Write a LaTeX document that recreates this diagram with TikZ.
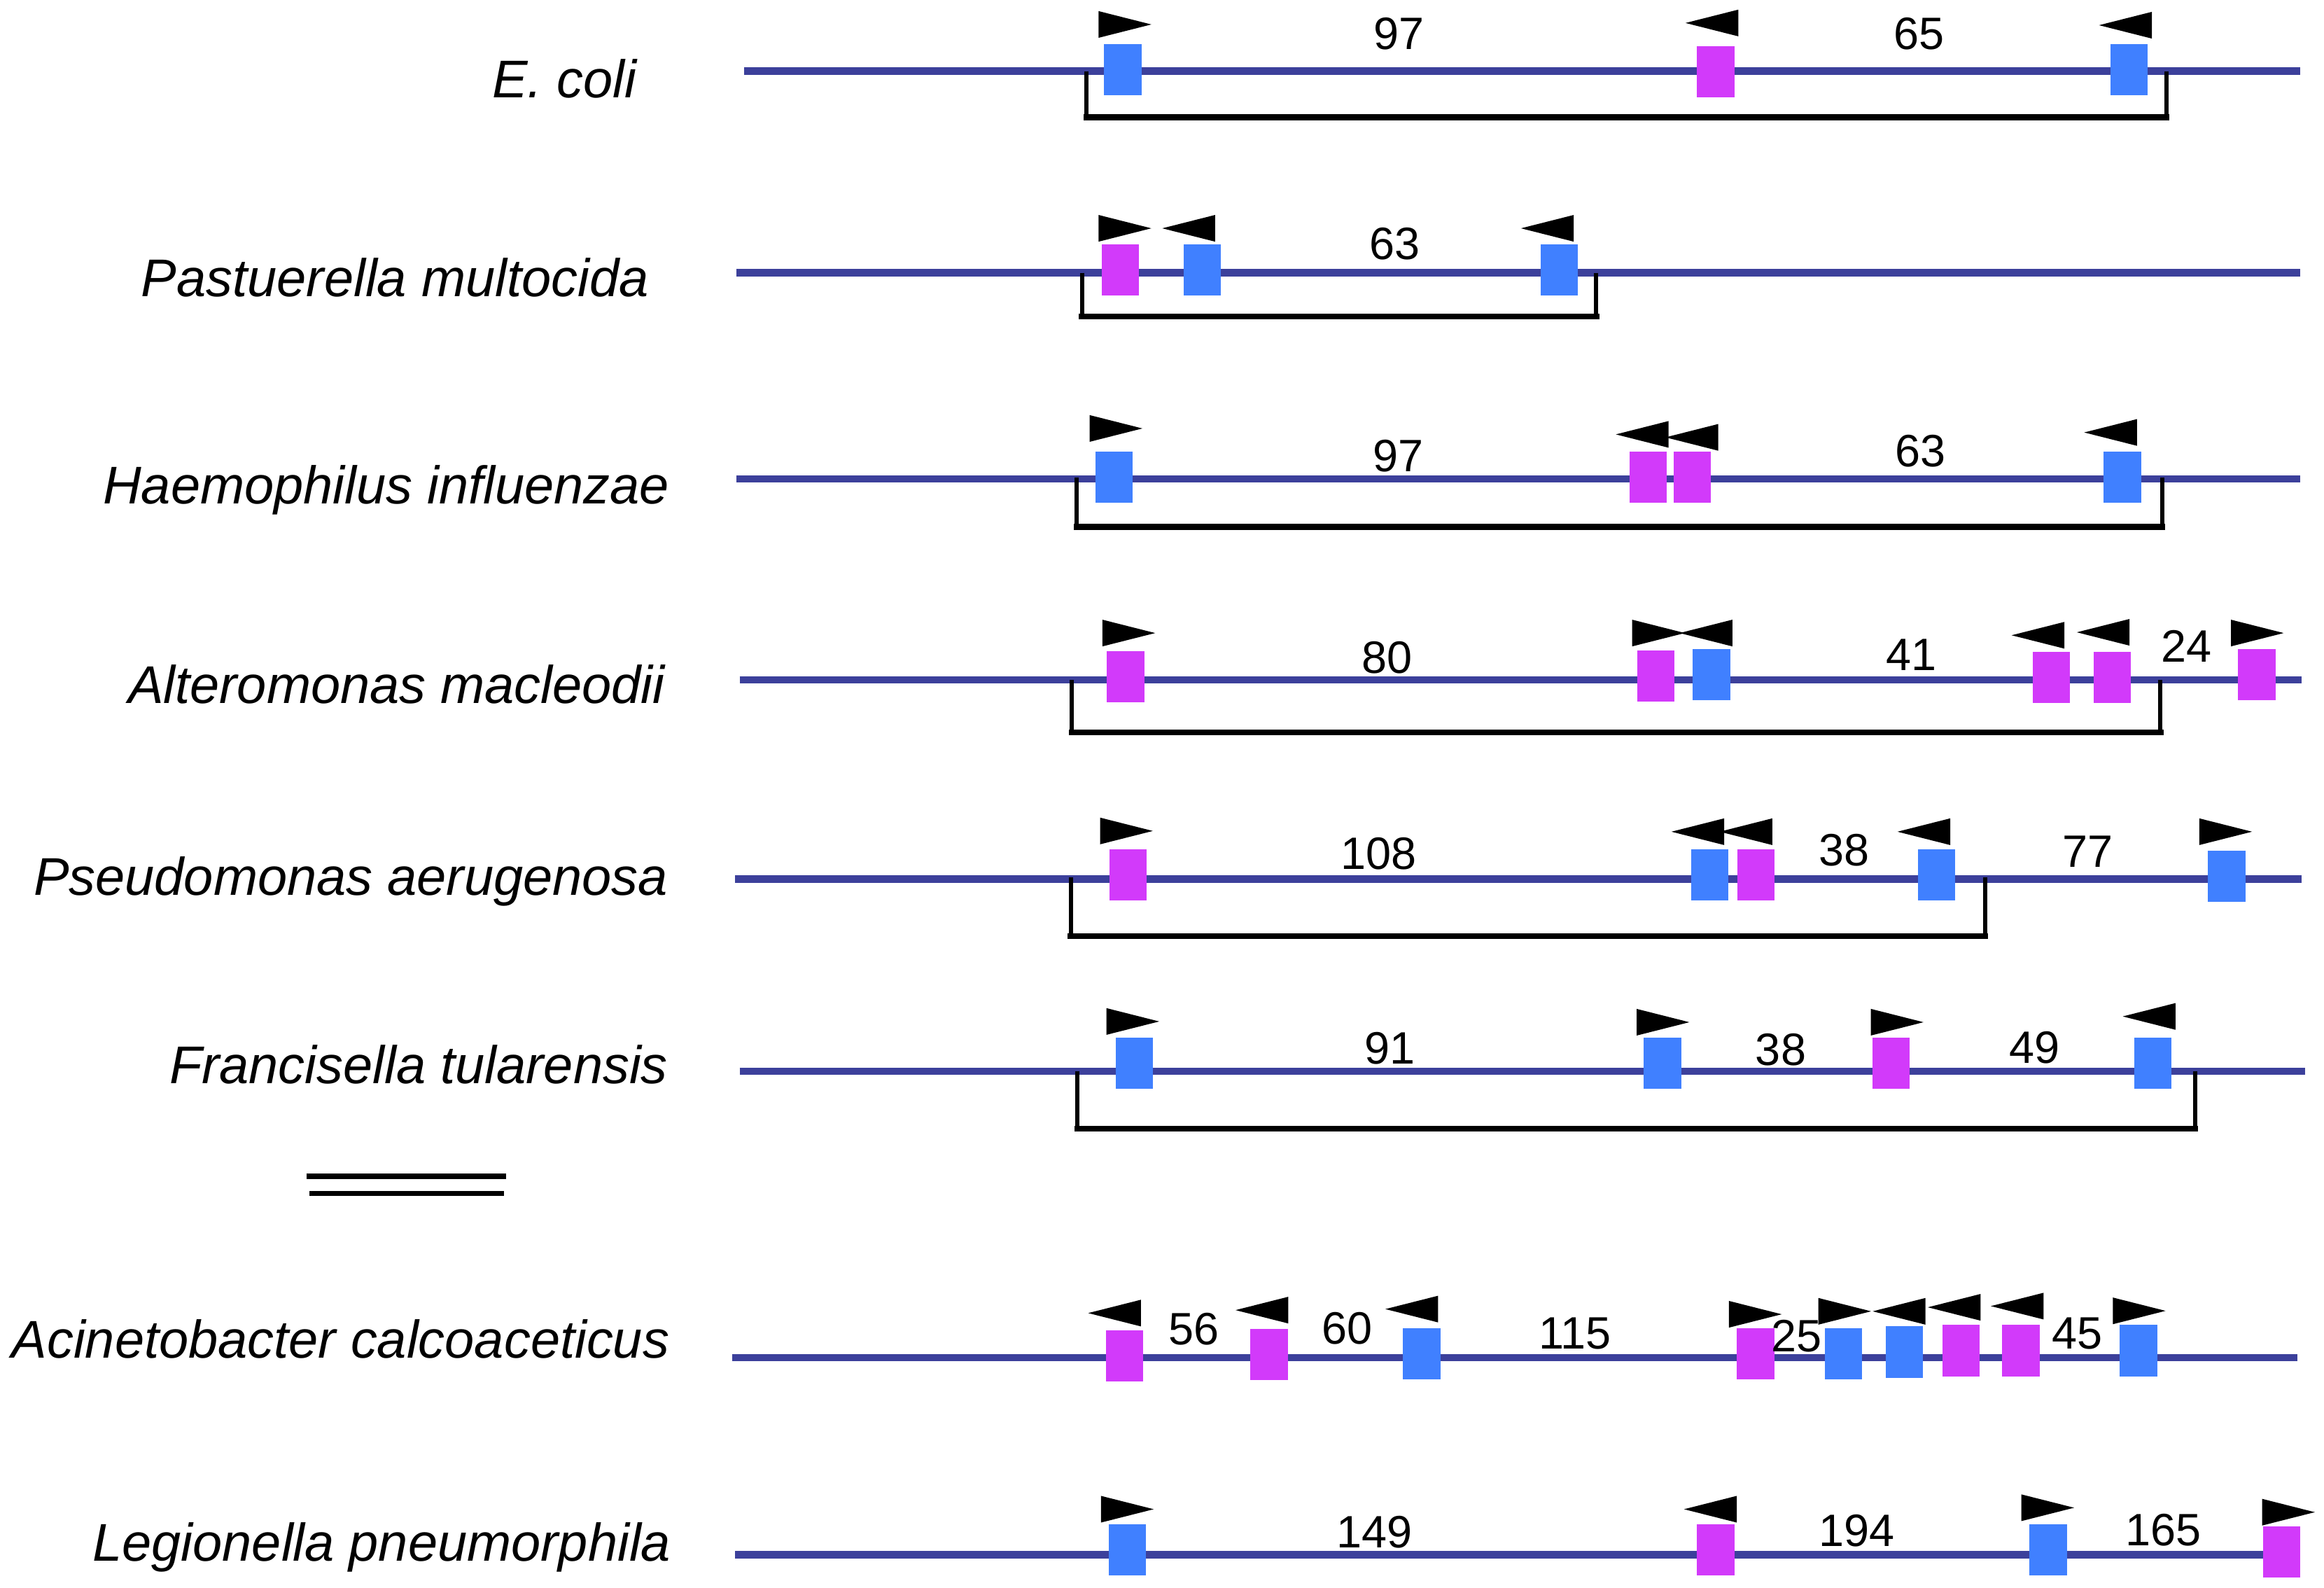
\documentclass[tikz,border=0pt]{standalone}
\usepackage{fontspec}
\setmainfont{Liberation Sans}
\definecolor{dnaline}{RGB}{60,64,155}
\definecolor{boxblue}{RGB}{64,128,255}
\definecolor{boxmag}{RGB}{210,58,250}
\newcommand\blubox[2]{\fill[boxblue] (#1-12.6,#2-17.3) rectangle (#1+12.6,#2+17.3);}
\newcommand\magbox[2]{\fill[boxmag] (#1-12.6,#2-17.3) rectangle (#1+12.6,#2+17.3);}
\newcommand\rarr[2]{\fill[black] (#1-17.8,#2-9) -- (#1+17.8,#2) -- (#1-17.8,#2+9) -- cycle;}
\newcommand\larr[2]{\fill[black] (#1+17.8,#2-9) -- (#1-17.8,#2) -- (#1+17.8,#2+9) -- cycle;}
\newcommand\dnarow[3]{\draw[dnaline,line width=2.5pt] (#1,#3) -- (#2,#3);}
\newcommand\spanbracket[4]{%
  \draw[black,line width=1.4pt] (#1,#3) -- (#1,#4);
  \draw[black,line width=1.4pt] (#2,#3) -- (#2,#4);
  \draw[black,line width=2pt,line cap=rect] (#1,#4) -- (#2,#4);}
\tikzset{
  species/.style={anchor=base east,inner sep=0pt,font=\fontsize{17.9}{21}\selectfont\itshape},
  num/.style={anchor=base,inner sep=0pt,font=\fontsize{15.3}{18}\selectfont},
}
\begin{document}
\begin{tikzpicture}[x=0.5pt,y=-0.5pt]
\useasboundingbox[fill=white] (0,0) rectangle (1568,1070.7);

% ---------- labels ----------
\node[species] (l1) at (430,66) {E. coli};
\node[species] (l2) at (438,200) {Pastuerella multocida};
\node[species] (l3) at (452,340) {Haemophilus influenzae};
\node[species] (l4) at (449,474.5) {Alteromonas macleodii};
\node[species] (l5) at (451,604) {Pseudomonas aerugenosa};
\node[species] (l6) at (451,731) {Francisella tularensis};
\node[species] (l7) at (452,916) {Acinetobacter calcoaceticus};
\node[species] (l8) at (453,1053) {Legionella pneumorphila};

% ---------- row 1: E. coli ----------
\dnarow{502}{1552}{48}
\spanbracket{733}{1461.5}{48}{79}
\blubox{757.5}{47}
\magbox{1157.5}{48.5}
\blubox{1436.5}{47}
\rarr{759}{16.5}
\larr{1155}{15.5}
\larr{1434}{17}
\node[num] (n11) at (944,33.4) {97};
\node[num] (n12) at (1295,33.4) {65};

% ---------- row 2: Pastuerella ----------
\dnarow{497}{1552}{184}
\spanbracket{730}{1077}{184}{213.4}
\magbox{756}{182}
\blubox{811}{182}
\blubox{1052}{182}
\rarr{759}{154}
\larr{802}{154}
\larr{1044}{154}
\node[num] (n21) at (941,175) {63};

% ---------- row 3: Haemophilus ----------
\dnarow{497}{1552}{323}
\spanbracket{726.5}{1459}{322}{355.4}
\blubox{751.7}{322}
\magbox{1112}{322}
\magbox{1141.6}{322}
\blubox{1432}{322}
\rarr{753}{289}
\larr{1108}{293}
\larr{1141.5}{295}
\larr{1424}{291.7}
\node[num] (n31) at (943.5,318) {97};
\node[num] (n32) at (1295.7,314.6) {63};

% ---------- row 4: Alteromonas ----------
\dnarow{499}{1553}{458.6}
\spanbracket{723}{1457.6}{458.6}{494}
\magbox{759.4}{456.5}
\magbox{1117.3}{456}
\blubox{1154.7}{455}
\magbox{1384}{457}
\magbox{1425}{457}
\magbox{1522.7}{455}
\rarr{761.6}{427}
\rarr{1119}{427}
\larr{1151}{427}
\larr{1375}{428.5}
\larr{1419}{426.5}
\rarr{1523}{427}
\node[num] (n41) at (935.7,454) {80};
\node[num] (n42) at (1289.5,452.2) {41};
\node[num] (n43) at (1475,446.4) {24};

% ---------- row 5: Pseudomonas ----------
\dnarow{496}{1553}{593}
\spanbracket{722.4}{1339.4}{592}{631.4}
\magbox{761}{590}
\blubox{1153.7}{590}
\magbox{1184.8}{590}
\blubox{1306.7}{590}
\blubox{1502.4}{591}
\rarr{760}{560.5}
\larr{1145.5}{561}
\larr{1178}{561}
\larr{1298}{561}
\rarr{1501.6}{561}
\node[num] (n51) at (930,586.5) {108};
\node[num] (n52) at (1244.4,584.2) {38};
\node[num] (n53) at (1408.7,585) {77};

% ---------- row 6: Francisella ----------
\dnarow{499}{1555}{722.5}
\spanbracket{726.9}{1481}{722.5}{761.4}
\blubox{765.4}{717}
\blubox{1121.7}{717}
\magbox{1276}{717}
\blubox{1452.4}{717}
\rarr{764.3}{689}
\rarr{1122}{689.5}
\rarr{1280}{689.5}
\larr{1450}{685.6}
\node[num] (n61) at (937.5,717.7) {91};
\node[num] (n62) at (1201.5,718.8) {38};
\node[num] (n63) at (1372.8,717.3) {49};

% ---------- separator ----------
\draw[black,line width=1.8pt] (206.7,793.3) -- (341.6,793.3);
\draw[black,line width=1.8pt] (208.8,805) -- (340,805);

% ---------- row 7: Acinetobacter ----------
\dnarow{494}{1550}{915.7}
\magbox{758.7}{914.5}
\magbox{856.2}{913.5}
\blubox{959.2}{913}
\magbox{1184.5}{913}
\blubox{1243.7}{913}
\blubox{1284.9}{912}
\magbox{1323.2}{911}
\magbox{1363.5}{911}
\blubox{1442.8}{911}
\larr{752}{885.7}
\larr{851.4}{883.7}
\larr{952.5}{883}
\rarr{1184.3}{886.5}
\rarr{1244.6}{884.5}
\larr{1281.3}{884.5}
\larr{1318.5}{881.8}
\larr{1361}{881}
\rarr{1443.3}{884.2}
\node[num] (n71) at (805.3,907) {56};
\node[num] (n72) at (908.7,906.5) {60};
\node[num] (n73) at (1062.5,909.8) {115};
\node[num] (n74) at (1212,911.7) {25};
\node[num] (n75) at (1401.3,909.8) {45};

% ---------- row 8: Legionella ----------
\dnarow{496}{1552}{1048.7}
\blubox{760.7}{1045.5}
\magbox{1157.6}{1045.5}
\blubox{1381.9}{1045.5}
\magbox{1539.3}{1046.8}
\rarr{760.6}{1018}
\larr{1154}{1018}
\rarr{1381.6}{1017}
\rarr{1544}{1020}
\node[num] (n81) at (927.3,1044) {149};
\node[num] (n82) at (1252.8,1043) {194};
\node[num] (n83) at (1459.8,1042.4) {165};
\end{tikzpicture}
\end{document}
